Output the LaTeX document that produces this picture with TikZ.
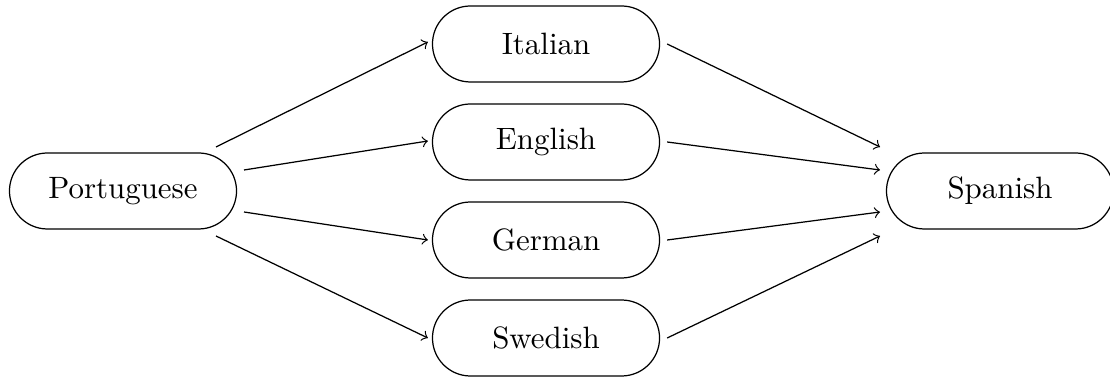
\documentclass[tikz,border=0pt]{standalone}
\usetikzlibrary{calc}
\begin{document}
\begin{tikzpicture}[x=0.3237pt,y=-0.3237pt,
  lang/.style={draw,line width=0.4pt,rectangle,rounded corners=12.3pt,
    minimum width=73.5pt,minimum height=24.6pt,inner sep=0pt},
  arr/.style={->,line width=0.4pt}]
\useasboundingbox (0,0) rectangle (1110,379);
\node[lang] (P) at (123,191) {Portuguese};
\node[lang] (I) at (546,44) {Italian};
\node[lang] (E) at (546,142) {English};
\node[lang] (G) at (546,240) {German};
\node[lang] (W) at (546,338) {Swedish};
\node[lang] (S) at (1000,191) {Spanish};
\draw[arr] ($(P.center)+(93,-44)$) -- ($(I.west)+(-4,-2)$);
\draw[arr] ($(P.center)+(121,-21)$) -- ($(E.west)+(-4,-1)$);
\draw[arr] ($(P.center)+(121,21)$) -- ($(G.west)+(-4,0)$);
\draw[arr] ($(P.center)+(93,45)$) -- ($(W.west)+(-4,0)$);
\draw[arr] ($(I.east)+(7,0)$) -- ($(S.center)+(-120,-44)$);
\draw[arr] ($(E.east)+(7,0)$) -- ($(S.center)+(-120,-21)$);
\draw[arr] ($(G.east)+(7,0)$) -- ($(S.center)+(-120,21)$);
\draw[arr] ($(W.east)+(7,0)$) -- ($(S.center)+(-120,45)$);
\end{tikzpicture}
\end{document}
